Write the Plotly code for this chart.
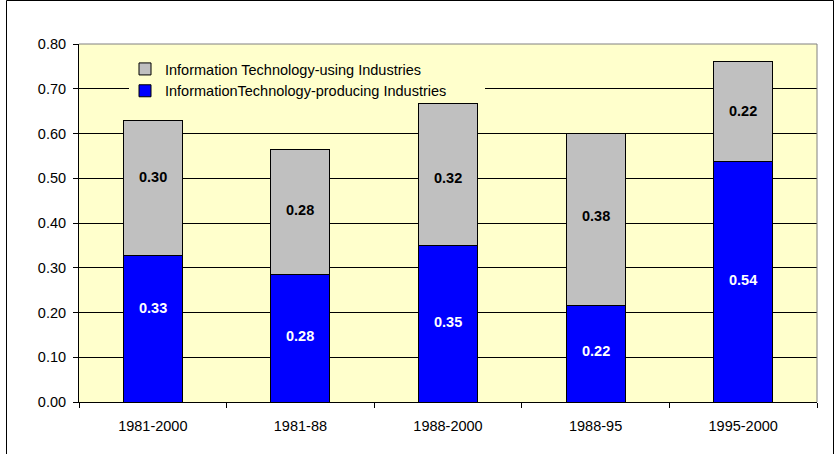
import plotly.graph_objects as go

categories = ["1981-2000", "1981-88", "1988-2000", "1988-95", "1995-2000"]
it_producing = [0.327, 0.285, 0.350, 0.216, 0.537]
it_using = [0.301, 0.280, 0.316, 0.384, 0.223]
y_ticks = [0.0, 0.1, 0.2, 0.3, 0.4, 0.5, 0.6, 0.7, 0.8]

name_using = "Information Technology-using Industries"
name_producing = "InformationTechnology-producing Industries"

# pixel nudges of value labels (style only)
prod_label_shift = [21, 2, 2, 3, 2]
using_label_shift = [11, 2, -3, 3, 1]

FONT = "Arial, Liberation Sans, sans-serif"
FS = 14.5

fig = go.Figure()
fig.add_trace(go.Bar(
    x=categories, y=it_producing, name=name_producing,
    marker=dict(color="#0000FF", line=dict(color="#000000", width=1)),
    width=0.4,
))
fig.add_trace(go.Bar(
    x=categories, y=it_using, name=name_using,
    marker=dict(color="#C0C0C0", line=dict(color="#000000", width=1)),
    width=0.4,
))

annotations = []
for i, c in enumerate(categories):
    p = it_producing[i]
    u = it_using[i]
    annotations.append(dict(
        x=c, y=p / 2, text=f"<b>{p:.2f}</b>", showarrow=False,
        yshift=prod_label_shift[i],
        font=dict(family=FONT, size=FS, color="#FFFFFF"),
    ))
    annotations.append(dict(
        x=c, y=p + u / 2, text=f"<b>{u:.2f}</b>", showarrow=False,
        yshift=using_label_shift[i],
        font=dict(family=FONT, size=FS, color="#000000"),
    ))

L, R, T, B = 79, 22, 44, 52
W, H = 839, 454
pw, ph = W - L - R, H - T - B

def px_x(x):
    return (x - L) / pw

def px_y(y):
    return (H - B - y) / ph

shapes = [
    # legend box background (hides gridline behind legend; clear of bars)
    dict(type="rect", xref="paper", yref="paper", layer="above",
         x0=px_x(129), x1=px_x(485), y0=px_y(100), y1=px_y(61),
         line=dict(width=0), fillcolor="#FFFFCC"),
    # plot area top/right border (gray)
    dict(type="line", xref="paper", yref="paper", x0=0, x1=1, y0=1, y1=1,
         line=dict(color="#808080", width=1)),
    dict(type="line", xref="paper", yref="paper", x0=1, x1=1, y0=0, y1=1,
         line=dict(color="#808080", width=1)),
    # outer chart frame
    dict(type="rect", xref="paper", yref="paper",
         x0=px_x(6.5), x1=px_x(833.5), y0=-0.3, y1=px_y(0.5),
         line=dict(color="#000000", width=1), fillcolor="rgba(0,0,0,0)"),
]

fig.update_layout(
    barmode="stack",
    width=W, height=H,
    margin=dict(l=L, r=R, t=T, b=B, pad=0),
    paper_bgcolor="#FFFFFF",
    plot_bgcolor="#FFFFCC",
    font=dict(family=FONT, size=FS, color="#000000"),
    showlegend=True,
    legend=dict(
        x=px_x(125), y=px_y(53), xanchor="left", yanchor="top",
        bgcolor="rgba(0,0,0,0)", traceorder="reversed",
        font=dict(family=FONT, size=FS, color="#000000"),
        itemwidth=30, tracegroupgap=0,
    ),
    annotations=annotations,
    shapes=shapes,
    bargap=0.6,
)
fig.update_xaxes(
    type="category", showgrid=False, showline=True, linecolor="#000000", linewidth=1,
    ticks="outside", tickson="boundaries", ticklen=5, tickcolor="#000000",
    ticklabelstandoff=11,
    tickfont=dict(family=FONT, size=FS, color="#000000"),
)
fig.update_yaxes(
    range=[0, 0.8], tickvals=y_ticks, ticktext=[f"{v:.2f}" for v in y_ticks],
    showgrid=True, gridcolor="#000000", gridwidth=1,
    showline=True, linecolor="#000000", linewidth=1,
    ticks="outside", ticklen=5, tickcolor="#000000",
    ticklabelstandoff=4,
    tickfont=dict(family=FONT, size=FS, color="#000000"),
    zeroline=False,
)

fig.write_html(
    "out.html",
    config={"displayModeBar": False},
    post_script="document.body.style.margin='0';document.body.style.overflow='hidden';",
)
